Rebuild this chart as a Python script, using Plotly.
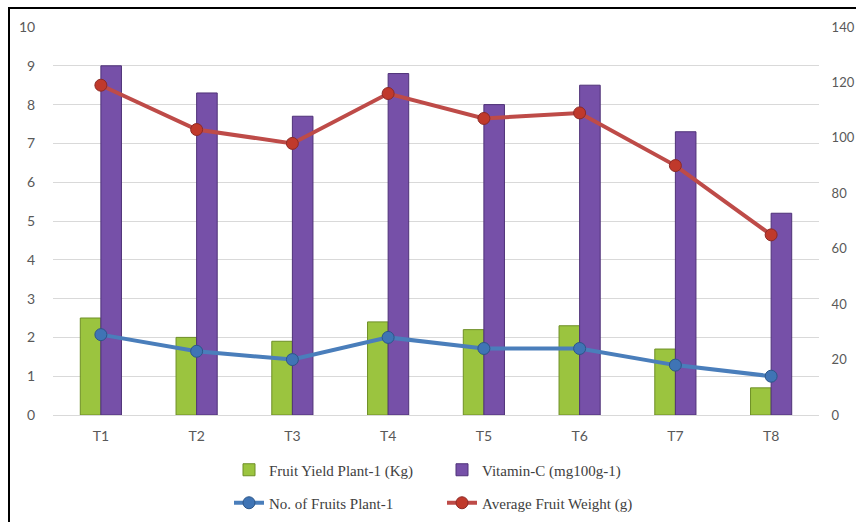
import plotly.graph_objects as go

categories = ["T1", "T2", "T3", "T4", "T5", "T6", "T7", "T8"]
fruit_yield = [2.5, 2.0, 1.9, 2.4, 2.2, 2.3, 1.7, 0.7]
vitamin_c = [9.0, 8.3, 7.7, 8.8, 8.0, 8.5, 7.3, 5.2]
no_of_fruits = [29, 23, 20, 28, 24, 24, 18, 14]
avg_fruit_weight = [119, 103, 98, 116, 107, 109, 90, 65]

left_ticks = list(range(0, 11))
right_ticks = list(range(0, 141, 20))

W, H = 856, 522
L, R, T, B = 53, 37, 27, 107
pw = W - L - R
ph = H - T - B

def rx(x):  # reference pixel x -> paper
    return (x - L) / pw

def ry(y):  # reference pixel y -> paper
    return (H - B - y) / ph

fig = go.Figure()
fig.add_trace(go.Bar(
    x=categories, y=fruit_yield, name="Fruit Yield Plant-1 (Kg)",
    marker=dict(color="#9BC43F", line=dict(color="#6E8F26", width=1)),
    legend="legend", yaxis="y",
))
fig.add_trace(go.Bar(
    x=categories, y=vitamin_c, name="Vitamin-C (mg100g-1)",
    marker=dict(color="#7650A8", line=dict(color="#4F3278", width=1)),
    legend="legend", yaxis="y",
))
fig.add_trace(go.Scatter(
    x=categories, y=no_of_fruits, name="No. of Fruits Plant-1",
    mode="lines+markers",
    line=dict(color="#4A7EBB", width=4),
    marker=dict(color="#3F74B5", size=12, line=dict(color="#2C5689", width=1)),
    legend="legend2", yaxis="y2",
))
fig.add_trace(go.Scatter(
    x=categories, y=avg_fruit_weight, name="Average Fruit Weight (g)",
    mode="lines+markers",
    line=dict(color="#BE4B48", width=4),
    marker=dict(color="#C0392B", size=12, line=dict(color="#8C2A26", width=1)),
    legend="legend2", yaxis="y2",
))

tickfont_l = dict(family="Lato, Liberation Sans, sans-serif", size=14, color="#595959")
tickfont_r = dict(family="Lato, Liberation Sans, sans-serif", size=13, color="#595959")
legfont = dict(family="Liberation Serif, serif", size=15, color="#404040")

fig.update_layout(
    width=W, height=H,
    margin=dict(l=L, r=R, t=T, b=B, autoexpand=False),
    template="none",
    paper_bgcolor="white", plot_bgcolor="white",
    barmode="group", bargap=0.57, bargroupgap=0,
    xaxis=dict(
        showgrid=False, showline=True, linecolor="#D9D9D9", linewidth=1,
        tickfont=tickfont_l, ticks="outside", ticklen=8, tickcolor="rgba(0,0,0,0)",
        automargin=False,
    ),
    yaxis=dict(
        range=[0, 10], tickvals=left_ticks, showgrid=True, gridcolor="#D9D9D9",
        zeroline=False, tickfont=tickfont_l, ticks="outside", ticklen=14,
        tickcolor="rgba(0,0,0,0)", automargin=False,
    ),
    yaxis2=dict(
        range=[0, 140], tickvals=right_ticks, overlaying="y", side="right",
        showgrid=False, zeroline=False, tickfont=tickfont_r, ticks="outside",
        ticklen=9, tickcolor="rgba(0,0,0,0)", automargin=False,
    ),
    legend=dict(
        orientation="h", x=rx(229), y=ry(470), xanchor="left", yanchor="middle",
        entrywidth=168, entrywidthmode="pixels", font=legfont,
        bgcolor="rgba(0,0,0,0)", traceorder="normal",
    ),
    legend2=dict(
        orientation="h", x=rx(229), y=ry(503), xanchor="left", yanchor="middle",
        entrywidth=168, entrywidthmode="pixels", font=legfont,
        bgcolor="rgba(0,0,0,0)", traceorder="normal",
    ),
    shapes=[dict(
        type="rect", xref="paper", yref="paper",
        x0=rx(9), x1=rx(900), y0=ry(600), y1=ry(8),
        line=dict(color="black", width=2), fillcolor="rgba(0,0,0,0)", layer="above",
    )],
)

page_css = (
    "document.documentElement.style.margin='0';"
    "document.documentElement.style.overflow='hidden';"
    "document.body.style.margin='0';"
    "document.body.style.overflow='hidden';"
)

fig.write_html(
    "out.html",
    config={"displayModeBar": False},
    post_script=page_css,
)
